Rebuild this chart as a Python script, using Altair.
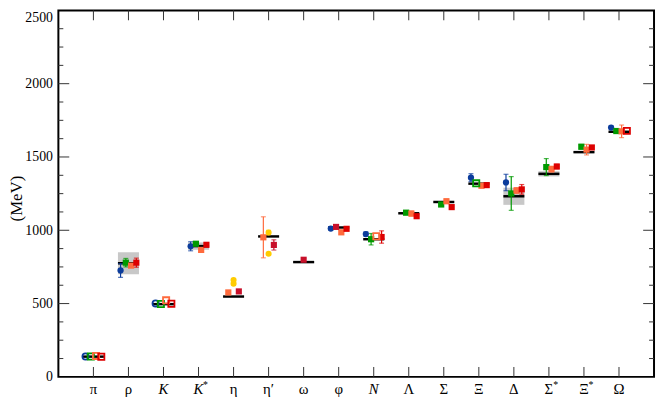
import altair as alt
import pandas as pd

# ---------------- data ----------------
categories = ["π", "ρ", "K", "K*", "η", "η′", "ω", "φ", "N", "Λ", "Σ", "Ξ", "Δ", "Σ*", "Ξ*", "Ω"]
cat_text = ["π", "ρ", "K", "K", "η", "η′", "ω", "φ", "N", "Λ", "Σ", "Ξ", "Δ", "Σ", "Ξ", "Ω"]
cat_sup = ["", "", "", "*", "", "", "", "", "", "", "", "", "", "*", "*", ""]
cat_italic = [False, False, True, True, False, False, False, False, True,
              False, False, False, False, False, False, False]

exp_mass = [138, 775, 496, 892, 548, 958, 783, 1019, 939, 1116, 1193, 1318, 1232, 1385, 1533, 1672]
exp_width = [0, 150, 0, 50, 0, 0, 8.5, 4.3, 0, 0, 0, 0, 117, 36, 9, 0]

# (category, slot, mass, error, open marker)
blue = [("π", -3, 139, 0, True), ("ρ", -3, 726, 47, False), ("K", -3, 501, 0, True),
        ("K*", -3, 891, 31, False), ("φ", -3, 1012, 12, False), ("N", -3, 974, 15, False),
        ("Ξ", -3, 1359, 27, False), ("Δ", -3, 1326, 56, False), ("Ω", -3, 1701, 10, False)]
green = [("π", -1, 139, 0, True), ("ρ", -1, 779, 29, False), ("K", -1, 497, 0, True),
         ("K*", -1, 908, 8, False), ("N", -1, 939, 39, False), ("Λ", -1, 1120, 10, False),
         ("Σ", -1, 1176, 10, False), ("Ξ", -1, 1320, 0, True), ("Δ", -1, 1251, 115, False),
         ("Σ*", -1, 1431, 58, False), ("Ξ*", -1, 1570, 15, False), ("Ω", -1, 1677, 15, False)]
orange = [("π", 1, 143, 0, True), ("ρ", 1, 759, 10, False), ("K", 1, 522, 0, True),
          ("K*", 1, 866, 10, False), ("η", -2, 576, 8, False), ("η′", -2, 952, 140, False),
          ("φ", 1, 986, 12, False), ("N", 1, 959, 0, True), ("Λ", 1, 1114, 17, False),
          ("Σ", 1, 1198, 15, False), ("Ξ", 1, 1304, 15, False), ("Δ", 1, 1271, 20, False),
          ("Σ*", 1, 1417, 20, False), ("Ξ*", 1, 1550, 36, False), ("Ω", 1, 1675, 43, False)]
red = [("π", 3, 137, 0, True), ("ρ", 3, 779, 31, False), ("K", 3, 499, 0, True),
       ("K*", 3, 901, 0, False), ("φ", 3, 1010, 0, False), ("N", 3, 954, 42, False),
       ("Λ", 3, 1096, 0, False), ("Σ", 3, 1158, 0, False), ("Ξ", 3, 1308, 0, False),
       ("Δ", 3, 1279, 33, False), ("Σ*", 3, 1435, 15, False), ("Ξ*", 3, 1565, 0, False),
       ("Ω", 3, 1678, 0, True)]
red_small = [("η", 2, 583, 12, False), ("η′", 2, 900, 35, False), ("ω", 0, 799, 8, False),
             ("φ", -1, 1023, 8, False)]
yellow = [("η", 0, 660, 0, False), ("η", 0, 636, 0, False), ("η′", 0, 985, 15, False),
          ("η′", 0, 840, 0, False)]

y_major = [0, 500, 1000, 1500, 2000, 2500]
y_minor = [125, 250, 375, 625, 750, 875, 1125, 1250, 1375, 1625, 1750, 1875, 2125, 2250, 2375]

series_names = ["blue", "green", "orange", "red", "redsmall", "yellow"]
series_colors = ["#0b3c9c", "#009a00", "#ff6a3c", "#dd0000", "#c8102a", "#ffcc00"]
series_shapes = ["circle", "square", "square", "square", "square", "circle"]
series_sizes = [40, 38, 34, 38, 18, 30]

SERIF = "Liberation Serif, Times New Roman, DejaVu Serif, serif"

# ---------------- tables ----------------
pos = {c: i + 1 for i, c in enumerate(categories)}
rows = []
for name, lst in zip(series_names, [blue, green, orange, red, red_small, yellow]):
    for c, slot, m, e, op in lst:
        rows.append(dict(series=name, pos=pos[c], slot=slot, mass=m, err=e, open=op))
pts = pd.DataFrame(rows)
exp = pd.DataFrame(dict(pos=list(range(1, 17)), mass=exp_mass, width=exp_width))
labels = pd.DataFrame(dict(pos=list(range(1, 17)), text=cat_text, sup=cat_sup, italic=cat_italic))
ymaj = pd.DataFrame(dict(v=y_major[1:-1]))
ymin = pd.DataFrame(dict(v=y_minor))

W, H = 603, 371
xscale = alt.Scale(domain=[0, 17], nice=False, zero=False)
yscale = alt.Scale(domain=[0, 2500], nice=False)
yaxis = alt.Axis(values=y_major, format="d", ticks=False, domain=False, grid=False, labelFont=SERIF,
                 labelFontSize=14, labelColor="black", labelPadding=6,
                 labelBaseline={"expr": "datum.value == 2500 ? 'top' : 'middle'"},
                 title="(MeV)", titleFont=SERIF, titleFontSize=17, titleFontWeight="normal",
                 titleColor="black", titleX=-42, titleY=190, titleBaseline="middle",
                 titleAlign="center", titleAngle=270)


def X(f):
    return alt.X(f, type="quantitative", scale=xscale, axis=None)


def Y(f):
    return alt.Y(f, type="quantitative", scale=yscale, axis=yaxis)


color = alt.Color("series:N", scale=alt.Scale(domain=series_names, range=series_colors), legend=None)
shape = alt.Shape("series:N", scale=alt.Scale(domain=series_names, range=series_shapes), legend=None)
size = alt.Size("series:N", scale=alt.Scale(domain=series_names, range=series_sizes), legend=None)

base_exp = alt.Chart(exp).transform_calculate(
    x1="datum.pos - 0.3", x2="datum.pos + 0.3",
    lo="datum.mass - datum.width / 2", hi="datum.mass + datum.width / 2")

boxes = base_exp.transform_filter("datum.width > 0").mark_rect(color="#c8c8c8").encode(
    x=X("x1"), x2="x2", y=Y("lo"), y2="hi")
lines = base_exp.mark_rule(color="black", strokeWidth=2.5).encode(
    x=X("x1"), x2="x2", y=Y("mass"))

base_pts = alt.Chart(pts).transform_calculate(
    x="datum.pos + datum.slot * 0.075",
    lo="datum.mass - datum.err", hi="datum.mass + datum.err")
err = base_pts.transform_filter("datum.err > 0")
bars = err.mark_rule(strokeWidth=1.2).encode(x=X("x"), y=Y("lo"), y2="hi", color=color)
cap_lo = err.mark_tick(orient="horizontal", size=5, thickness=1.2).encode(x=X("x"), y=Y("lo"), color=color)
cap_hi = err.mark_tick(orient="horizontal", size=5, thickness=1.2).encode(x=X("x"), y=Y("hi"), color=color)
filled = base_pts.transform_filter("!datum.open").mark_point(filled=True, opacity=1).encode(
    x=X("x"), y=Y("mass"), color=color, shape=shape, size=size)
opened = base_pts.transform_filter("datum.open").mark_point(filled=False, strokeWidth=1.8, opacity=1).encode(
    x=X("x"), y=Y("mass"), color=color, shape=shape, size=size)

tick_style = dict(color="#333333", strokeWidth=1)
lt_major = alt.Chart(ymaj).mark_rule(**tick_style).encode(y=Y("v"), x=alt.value(0), x2=alt.value(11))
rt_major = alt.Chart(ymaj).mark_rule(**tick_style).encode(y=Y("v"), x=alt.value(W - 11), x2=alt.value(W))
lt_minor = alt.Chart(ymin).mark_rule(**tick_style).encode(y=Y("v"), x=alt.value(0), x2=alt.value(5))
rt_minor = alt.Chart(ymin).mark_rule(**tick_style).encode(y=Y("v"), x=alt.value(W - 5), x2=alt.value(W))
bt_ticks = alt.Chart(labels).mark_rule(**tick_style).encode(x=X("pos"), y=alt.value(H), y2=alt.value(H - 10))
tp_ticks = alt.Chart(labels).mark_rule(**tick_style).encode(x=X("pos"), y=alt.value(0), y2=alt.value(10))

lab_norm = alt.Chart(labels).transform_filter("!datum.italic").mark_text(
    font=SERIF, fontSize=15, baseline="top", color="black").encode(
    x=X("pos"), y=alt.value(H + 5), text="text:N")
lab_ital = alt.Chart(labels).transform_filter("datum.italic").mark_text(
    font=SERIF, fontSize=15, fontStyle="italic", baseline="top", color="black").encode(
    x=X("pos"), y=alt.value(H + 5), text="text:N")
lab_sup = alt.Chart(labels).transform_filter("datum.sup != ''").mark_text(
    font=SERIF, fontSize=10, baseline="top", color="black", dx=7).encode(
    x=X("pos"), y=alt.value(H + 3), text="sup:N")

chart = alt.layer(
    boxes, lines, bars, cap_lo, cap_hi, filled, opened,
    lt_major, rt_major, lt_minor, rt_minor, bt_ticks, tp_ticks,
    lab_norm, lab_ital, lab_sup
).properties(
    width=W, height=H,
    autosize=alt.AutoSizeParams(type="none"),
    padding={"left": 51, "top": 0, "right": 2, "bottom": 21},
    background="white",
).configure_view(stroke="black", strokeWidth=2)

chart.save("out.html", embed_options={"renderer": "svg", "actions": False})
